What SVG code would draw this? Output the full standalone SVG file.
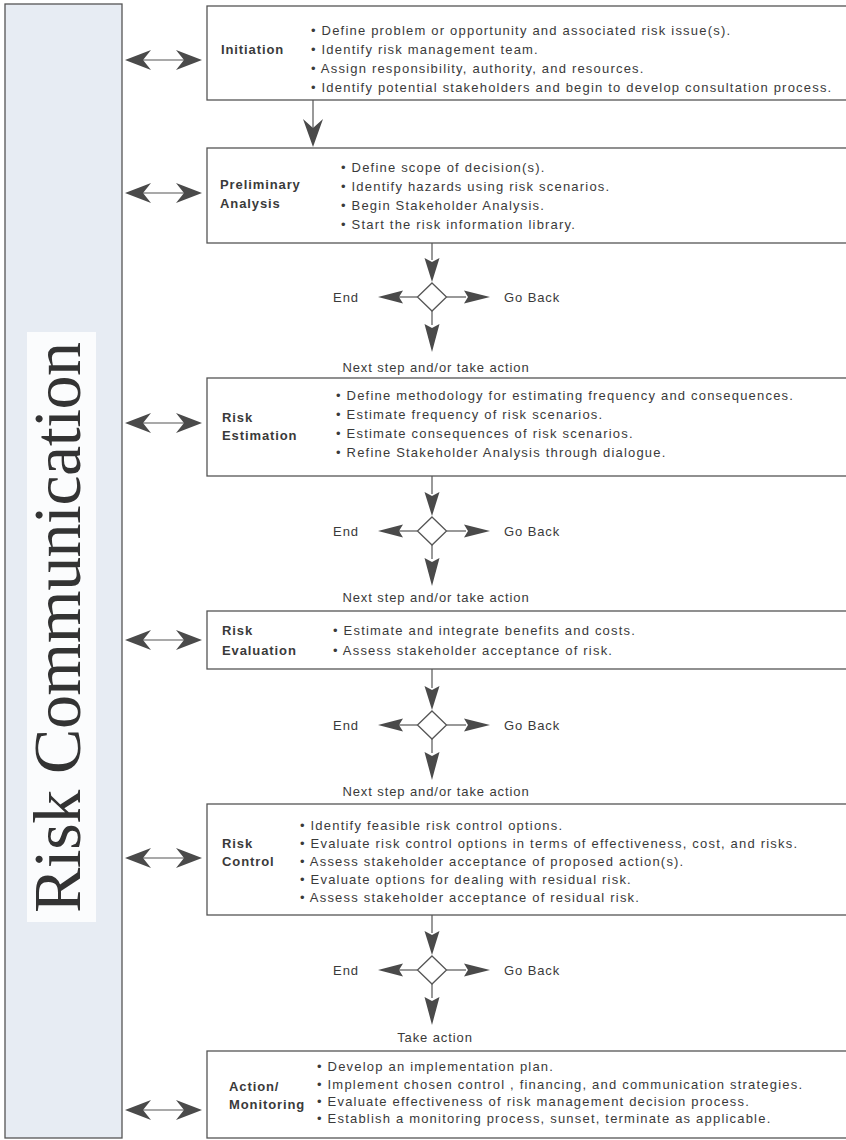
<svg xmlns="http://www.w3.org/2000/svg" xmlns:xlink="http://www.w3.org/1999/xlink" width="846" height="1140" viewBox="0 0 846 1140">
<style>
.box{fill:#fff;stroke:#555;stroke-width:1.3}
.lbl{font-family:"Liberation Sans",Arial,sans-serif;font-size:13px;font-weight:bold;fill:#3a3a3a;letter-spacing:0.9px}
.txt{font-family:"Liberation Sans",Arial,sans-serif;font-size:13px;fill:#3a3a3a;letter-spacing:1.2px}
.sm{font-family:"Liberation Sans",Arial,sans-serif;font-size:13px;fill:#3a3a3a;letter-spacing:0.9px}
.ln{stroke:#555;stroke-width:1.2;fill:none}
.hd{fill:#4a4a4a;stroke:none}
.dia{fill:#fff;stroke:#555;stroke-width:1.3}
</style>
<defs>
<g id="dbl">
<line x1="140" y1="0" x2="188" y2="0" class="ln"/>
<path class="hd" d="M125,0 L151,-10 L143,0 L151,10 Z"/>
<path class="hd" d="M202,0 L176,-10 L184,0 L176,10 Z"/>
</g>
<g id="dec">
<path class="hd" d="M-7.5,-39 L0,-35 L7.5,-39 L0,-15 Z"/>
<path class="dia" d="M0,-14 L14.5,0 L0,14 L-14.5,0 Z"/>
<line class="ln" x1="-14.5" y1="0" x2="-33" y2="0"/>
<path class="hd" d="M-29,-6.5 L-33,0 L-29,6.5 L-54,0 Z"/>
<line class="ln" x1="14.5" y1="0" x2="34" y2="0"/>
<path class="hd" d="M32,-6.5 L36,0 L32,6.5 L58,0 Z"/>
<line class="ln" x1="0" y1="14" x2="0" y2="28"/>
<path class="hd" d="M-7.5,27 L0,31 L7.5,27 L0,55 Z"/>
<text class="sm" x="-86" y="4.5" text-anchor="middle">End</text>
<text class="sm" x="72" y="4.5">Go Back</text>
</g>
</defs>

<g id="risk-communication">
<rect x="5" y="4" width="117" height="1134" fill="#e7ecf3" stroke="#555" stroke-width="1.3"/>
<rect x="27" y="332" width="69" height="590" fill="#fbfcfd"/>
<text transform="translate(80,913) rotate(-90)" x="0" y="0" font-family="'Liberation Serif','Times New Roman',serif" font-size="68" fill="#333" textLength="571" lengthAdjust="spacing">Risk Communication</text>
</g>

<g id="connectors">
<use xlink:href="#dbl" y="60"/>
<use xlink:href="#dbl" y="193"/>
<use xlink:href="#dbl" y="423"/>
<use xlink:href="#dbl" y="640"/>
<use xlink:href="#dbl" y="858"/>
<use xlink:href="#dbl" y="1110"/>
<line class="ln" x1="313" y1="100" x2="313" y2="128"/>
<path class="hd" d="M313,147 L303,119 L313,128 L323,119 Z"/>
<line class="ln" x1="432" y1="243" x2="432" y2="260"/>
<line class="ln" x1="432" y1="476" x2="432" y2="494"/>
<line class="ln" x1="432" y1="669" x2="432" y2="688"/>
<line class="ln" x1="432" y1="915" x2="432" y2="933"/>
</g>

<g id="decision-1">
<use xlink:href="#dec" transform="translate(432,297)"/>
<text class="sm" x="436" y="371.5" text-anchor="middle">Next step and/or take action</text>
</g>
<g id="decision-2">
<use xlink:href="#dec" transform="translate(432,531)"/>
<text class="sm" x="436" y="601.5" text-anchor="middle">Next step and/or take action</text>
</g>
<g id="decision-3">
<use xlink:href="#dec" transform="translate(432,725)"/>
<text class="sm" x="436" y="795.5" text-anchor="middle">Next step and/or take action</text>
</g>
<g id="decision-4">
<use xlink:href="#dec" transform="translate(432,970)"/>
<text class="sm" x="435" y="1041.5" text-anchor="middle">Take action</text>
</g>

<g id="initiation">
<rect class="box" x="207" y="6" width="641" height="94"/>
<text class="lbl" x="221" y="53.5">Initiation</text>
<text class="txt" x="311" y="34.5">• Define problem or opportunity and associated risk issue(s).</text>
<text class="txt" x="311" y="53.5">• Identify risk management team.</text>
<text class="txt" x="311" y="72.5">• Assign responsibility, authority, and resources.</text>
<text class="txt" x="311" y="91.5">• Identify potential stakeholders and begin to develop consultation process.</text>
</g>

<g id="preliminary-analysis">
<rect class="box" x="207" y="148" width="641" height="95"/>
<text class="lbl" x="220" y="188.5">Preliminary</text>
<text class="lbl" x="220" y="207.5">Analysis</text>
<text class="txt" x="341" y="171.5">• Define scope of decision(s).</text>
<text class="txt" x="341" y="190.5">• Identify hazards using risk scenarios.</text>
<text class="txt" x="341" y="209.5">• Begin Stakeholder Analysis.</text>
<text class="txt" x="341" y="228.5">• Start the risk information library.</text>
</g>

<g id="risk-estimation">
<rect class="box" x="207" y="378" width="641" height="98"/>
<text class="lbl" x="222" y="421.5">Risk</text>
<text class="lbl" x="222" y="439.5">Estimation</text>
<text class="txt" x="336" y="399.5">• Define methodology for estimating frequency and consequences.</text>
<text class="txt" x="336" y="418.5">• Estimate frequency of risk scenarios.</text>
<text class="txt" x="336" y="437.5">• Estimate consequences of risk scenarios.</text>
<text class="txt" x="336" y="456.5">• Refine Stakeholder Analysis through dialogue.</text>
</g>

<g id="risk-evaluation">
<rect class="box" x="207" y="611" width="641" height="58"/>
<text class="lbl" x="222" y="634.5">Risk</text>
<text class="lbl" x="222" y="654.5">Evaluation</text>
<text class="txt" x="333" y="634.5">• Estimate and integrate benefits and costs.</text>
<text class="txt" x="333" y="654.5">• Assess stakeholder acceptance of risk.</text>
</g>

<g id="risk-control">
<rect class="box" x="207" y="804" width="641" height="111"/>
<text class="lbl" x="222" y="847.5">Risk</text>
<text class="lbl" x="222" y="865.5">Control</text>
<text class="txt" x="300" y="829.5">• Identify feasible risk control options.</text>
<text class="txt" x="300" y="847.5">• Evaluate risk control options in terms of effectiveness, cost, and risks.</text>
<text class="txt" x="300" y="865.5">• Assess stakeholder acceptance of proposed action(s).</text>
<text class="txt" x="300" y="883.5">• Evaluate options for dealing with residual risk.</text>
<text class="txt" x="300" y="901.5">• Assess stakeholder acceptance of residual risk.</text>
</g>

<g id="action-monitoring">
<rect class="box" x="207" y="1051" width="641" height="87"/>
<text class="lbl" x="229" y="1090.5">Action/</text>
<text class="lbl" x="229" y="1108.5">Monitoring</text>
<text class="txt" x="317" y="1070.5">• Develop an implementation plan.</text>
<text class="txt" x="317" y="1088.5">• Implement chosen control , financing, and communication strategies.</text>
<text class="txt" x="317" y="1105.5">• Evaluate effectiveness of risk management decision process.</text>
<text class="txt" x="317" y="1122.5">• Establish a monitoring process, sunset, terminate as applicable.</text>
</g>
</svg>
